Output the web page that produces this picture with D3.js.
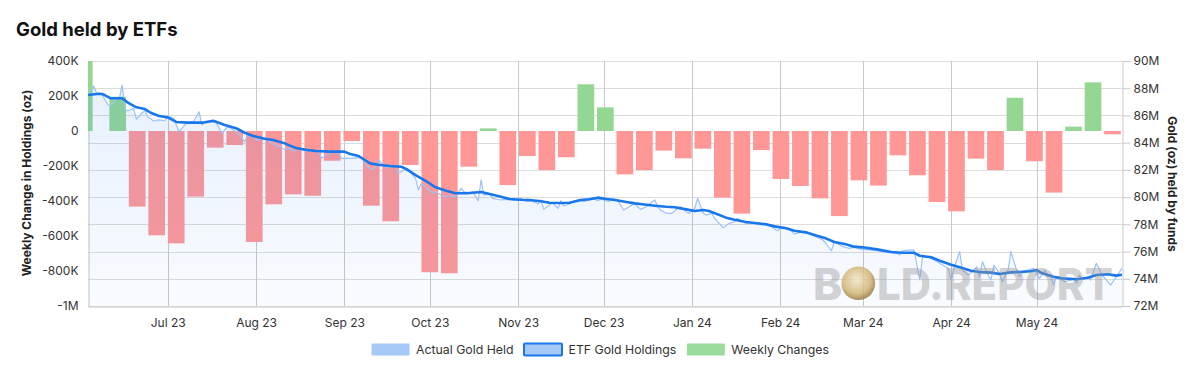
<!DOCTYPE html>
<html><head>
<meta charset="utf-8">
<title>Gold held by ETFs</title>
<script src="https://cdn.jsdelivr.net/npm/d3@7"></script>
<style>
  body { margin: 0; background: #fff; font-family: Inter, "Noto Sans", sans-serif; }
  .tick text { font-family: Inter, "Noto Sans", sans-serif; font-size: 12px; fill: #333; }
  .legend text { font-size: 12.3px; fill: #333; }
</style>
</head>
<body>
<svg id="chart" width="1200" height="381"></svg>

<script>

// Weekly change in holdings (oz), one bar per week
const weekDates = ["2023-05-28",
  "2023-06-09","2023-06-16","2023-06-23","2023-06-30","2023-07-07","2023-07-14","2023-07-21","2023-07-28",
  "2023-08-04","2023-08-11","2023-08-18","2023-08-25","2023-09-01","2023-09-08","2023-09-15","2023-09-22",
  "2023-09-29","2023-10-06","2023-10-13","2023-10-20","2023-10-27","2023-11-03","2023-11-10","2023-11-17",
  "2023-11-24","2023-12-01","2023-12-08","2023-12-15","2023-12-22","2023-12-29","2024-01-05","2024-01-12",
  "2024-01-19","2024-01-26","2024-02-02","2024-02-09","2024-02-16","2024-02-23","2024-03-01","2024-03-08",
  "2024-03-15","2024-03-22","2024-03-29","2024-04-05","2024-04-12","2024-04-19","2024-04-26","2024-05-03",
  "2024-05-10","2024-05-17","2024-05-24","2024-05-31"];
const weeklyChange = [430000,
  196000,-432000,-596000,-642000,-375000,-95000,-80000,-634000,
  -419000,-362000,-370000,-170000,-57000,-427000,-516000,-194000,
  -807000,-813000,-204000,15000,-309000,-143000,-223000,-150000,
  267000,135000,-248000,-223000,-112000,-156000,-101000,-381000,
  -472000,-109000,-274000,-314000,-385000,-486000,-282000,-312000,
  -139000,-253000,-406000,-459000,-158000,-223000,190000,-173000,
  -352000,25000,278000,-19000];

// ETF gold holdings (smoothed), millions of oz
const etfGoldHoldings = [
  ["2023-06-03",87.50],["2023-06-06",87.58],["2023-06-08",87.58],["2023-06-11",87.26],["2023-06-15",87.26],
  ["2023-06-17",86.94],["2023-06-20",86.60],["2023-06-23",86.47],["2023-06-25",86.20],["2023-06-28",85.96],
  ["2023-07-01",85.86],["2023-07-04",85.52],["2023-07-08",85.47],["2023-07-13",85.47],["2023-07-17",85.61],
  ["2023-07-21",85.30],["2023-07-25",85.06],["2023-07-28",84.73],["2023-07-31",84.49],["2023-08-04",84.29],
  ["2023-08-07",84.20],["2023-08-11",83.95],["2023-08-15",83.61],["2023-08-19",83.46],["2023-08-22",83.39],
  ["2023-08-27",83.34],["2023-09-01",83.34],["2023-09-03",83.17],["2023-09-06",83.02],["2023-09-10",82.48],
  ["2023-09-13",82.38],["2023-09-17",82.29],["2023-09-21",82.23],["2023-09-23",82.04],["2023-09-26",81.62],
  ["2023-09-30",81.13],["2023-10-03",80.72],["2023-10-07",80.45],["2023-10-10",80.28],["2023-10-14",80.28],
  ["2023-10-19",80.37],["2023-10-22",80.23],["2023-10-26",80.03],["2023-10-29",79.86],["2023-11-02",79.81],
  ["2023-11-05",79.79],["2023-11-09",79.69],["2023-11-12",79.59],["2023-11-16",79.57],["2023-11-19",79.59],
  ["2023-11-23",79.79],["2023-11-26",79.84],["2023-11-29",79.96],["2023-12-02",79.86],["2023-12-05",79.79],
  ["2023-12-09",79.64],["2023-12-12",79.54],["2023-12-16",79.44],["2023-12-19",79.37],["2023-12-23",79.29],
  ["2023-12-26",79.25],["2023-12-30",79.10],["2024-01-02",78.98],["2024-01-05",79.05],["2024-01-07",78.98],
  ["2024-01-10",78.74],["2024-01-13",78.49],["2024-01-16",78.34],["2024-01-20",78.17],["2024-01-23",78.10],
  ["2024-01-27",78.00],["2024-01-30",77.85],["2024-02-03",77.71],["2024-02-06",77.53],["2024-02-10",77.41],
  ["2024-02-13",77.22],["2024-02-17",76.97],["2024-02-20",76.70],["2024-02-24",76.53],["2024-02-27",76.36],
  ["2024-03-01",76.31],["2024-03-06",76.16],["2024-03-11",75.97],["2024-03-15",75.91],["2024-03-19",75.91],
  ["2024-03-21",75.69],["2024-03-25",75.58],["2024-03-28",75.33],["2024-04-01",75.03],["2024-04-04",74.84],
  ["2024-04-08",74.59],["2024-04-11",74.50],["2024-04-15",74.45],["2024-04-18",74.35],["2024-04-22",74.47],
  ["2024-04-25",74.50],["2024-04-29",74.55],["2024-05-01",74.64],["2024-05-03",74.40],["2024-05-07",74.15],
  ["2024-05-10",74.03],["2024-05-15",73.96],["2024-05-19",74.08],["2024-05-22",74.28],["2024-05-26",74.33],
  ["2024-05-29",74.23],["2024-05-31",74.30]];

// Actual gold held (daily, noisy), millions of oz
const actualGoldHeld = [
  ["2023-06-03",87.50],["2023-06-05",88.16],["2023-06-06",87.63],["2023-06-07",87.67],["2023-06-08",87.50],
  ["2023-06-10",86.77],["2023-06-11",86.69],["2023-06-13",87.19],["2023-06-14",87.26],["2023-06-15",88.24],
  ["2023-06-16",86.40],["2023-06-17",86.35],["2023-06-19",86.52],["2023-06-20",85.72],["2023-06-22",86.20],
  ["2023-06-23",86.35],["2023-06-24",85.91],["2023-06-26",85.59],["2023-06-28",85.67],["2023-06-30",85.61],
  ["2023-07-01",85.96],["2023-07-03",85.79],["2023-07-05",84.81],["2023-07-07",85.30],["2023-07-08",85.52],
  ["2023-07-10",85.54],["2023-07-12",86.27],["2023-07-13",85.30],["2023-07-14",85.52],["2023-07-16",85.54],
  ["2023-07-18",85.47],["2023-07-20",84.69],["2023-07-21",84.93],["2023-07-22",85.17],["2023-07-23",85.06],
  ["2023-07-25",84.81],["2023-07-26",84.56],["2023-07-28",84.07],["2023-07-29",84.56],["2023-07-31",84.44],
  ["2023-08-01",84.20],["2023-08-03",84.27],["2023-08-05",84.20],["2023-08-07",83.90],["2023-08-09",83.75],
  ["2023-08-11",83.51],["2023-08-13",83.59],["2023-08-14",83.39],["2023-08-16",83.59],["2023-08-18",83.41],
  ["2023-08-20",83.39],["2023-08-21",83.46],["2023-08-23",83.34],["2023-08-24",82.85],["2023-08-26",83.09],
  ["2023-08-28",83.34],["2023-08-30",83.22],["2023-08-31",82.85],["2023-09-03",82.85],["2023-09-07",82.92],
  ["2023-09-09",82.23],["2023-09-11",82.04],["2023-09-12",82.19],["2023-09-13",82.78],["2023-09-15",82.23],
  ["2023-09-17",82.19],["2023-09-19",82.36],["2023-09-20",81.75],["2023-09-22",81.99],["2023-09-24",81.87],
  ["2023-09-26",81.38],["2023-09-27",80.52],["2023-09-28",81.01],["2023-09-30",80.65],["2023-10-02",80.28],
  ["2023-10-03",80.40],["2023-10-05",80.15],["2023-10-06",80.03],["2023-10-08",80.08],["2023-10-10",80.03],
  ["2023-10-12",80.65],["2023-10-13",80.40],["2023-10-15",80.28],["2023-10-16",80.40],["2023-10-18",79.74],
  ["2023-10-19",81.26],["2023-10-20",80.15],["2023-10-22",80.28],["2023-10-23",79.91],["2023-10-26",79.79],
  ["2023-10-28",79.84],["2023-10-30",79.79],["2023-11-01",79.74],["2023-11-02",79.91],["2023-11-04",79.66],
  ["2023-11-06",79.74],["2023-11-08",79.49],["2023-11-09",79.79],["2023-11-10",79.10],["2023-11-12",79.42],
  ["2023-11-13",79.59],["2023-11-15",79.18],["2023-11-16",79.74],["2023-11-17",79.35],["2023-11-19",79.49],
  ["2023-11-20",79.66],["2023-11-22",79.79],["2023-11-24",79.66],["2023-11-26",79.79],["2023-11-27",79.91],
  ["2023-11-29",79.74],["2023-11-30",79.84],["2023-12-03",79.66],["2023-12-04",79.91],["2023-12-06",79.74],
  ["2023-12-08",79.05],["2023-12-10",79.29],["2023-12-12",79.54],["2023-12-13",79.29],["2023-12-14",79.10],
  ["2023-12-16",79.29],["2023-12-17",79.49],["2023-12-19",79.79],["2023-12-20",79.29],["2023-12-21",79.05],
  ["2023-12-23",78.81],["2023-12-25",78.81],["2023-12-27",79.18],["2023-12-28",79.29],["2023-12-30",78.93],
  ["2023-12-31",78.81],["2024-01-02",79.18],["2024-01-03",79.91],["2024-01-05",78.81],["2024-01-06",78.68],
  ["2024-01-08",78.81],["2024-01-09",78.44],["2024-01-12",77.75],["2024-01-14",78.07],["2024-01-16",78.19],
  ["2024-01-17",78.44],["2024-01-20",78.07],["2024-01-22",78.12],["2024-01-24",78.07],["2024-01-27",77.95],
  ["2024-01-29",77.82],["2024-01-31",77.53],["2024-02-02",77.82],["2024-02-04",77.71],["2024-02-06",77.29],
  ["2024-02-09",77.46],["2024-02-11",77.34],["2024-02-13",77.14],["2024-02-16",76.85],["2024-02-17",76.61],
  ["2024-02-19",76.06],["2024-02-20",76.72],["2024-02-23",76.36],["2024-02-25",76.24],["2024-02-27",76.31],
  ["2024-02-28",76.24],["2024-03-01",76.16],["2024-03-04",76.11],["2024-03-06",76.06],["2024-03-08",75.99],
  ["2024-03-11",75.91],["2024-03-13",75.87],["2024-03-14",75.75],["2024-03-15",76.06],["2024-03-17",76.11],
  ["2024-03-19",76.11],["2024-03-21",73.91],["2024-03-22",75.62],["2024-03-24",75.58],["2024-03-26",75.38],
  ["2024-03-28",75.14],["2024-03-31",74.77],["2024-04-01",73.91],["2024-04-02",74.77],["2024-04-04",75.99],
  ["2024-04-05",74.64],["2024-04-07",74.28],["2024-04-09",74.64],["2024-04-10",74.89],["2024-04-11",74.15],
  ["2024-04-12",75.25],["2024-04-14",74.28],["2024-04-15",73.91],["2024-04-16",75.01],["2024-04-18",74.40],
  ["2024-04-19",73.78],["2024-04-21",74.64],["2024-04-22",75.99],["2024-04-24",74.64],["2024-04-25",74.15],
  ["2024-04-26",74.52],["2024-04-28",74.64],["2024-04-30",74.77],["2024-05-01",74.40],["2024-05-02",74.03],
  ["2024-05-04",74.64],["2024-05-05",74.15],["2024-05-06",74.28],["2024-05-07",73.54],["2024-05-08",74.15],
  ["2024-05-09",74.03],["2024-05-11",73.78],["2024-05-13",73.91],["2024-05-14",74.03],["2024-05-15",73.67],
  ["2024-05-16",74.28],["2024-05-17",73.91],["2024-05-19",74.15],["2024-05-20",73.91],["2024-05-22",75.14],
  ["2024-05-24",74.28],["2024-05-26",73.78],["2024-05-27",73.54],["2024-05-29",74.15],["2024-05-31",74.77]];

// Ticks
const leftTicks = [400000, 200000, 0, -200000, -400000, -600000, -800000, -1000000];
const leftTickLabels = ["400K", "200K", "0", "-200K", "-400K", "-600K", "-800K", "-1M"];
const rightTicks = [72, 74, 76, 78, 80, 82, 84, 86, 88, 90];
const rightTickLabels = ["72M", "74M", "76M", "78M", "80M", "82M", "84M", "86M", "88M", "90M"];
const monthTicks = ["2023-07-01","2023-08-01","2023-09-01","2023-10-01","2023-11-01","2023-12-01",
                    "2024-01-01","2024-02-01","2024-03-01","2024-04-01","2024-05-01"];
const monthLabels = ["Jul 23","Aug 23","Sep 23","Oct 23","Nov 23","Dec 23",
                     "Jan 24","Feb 24","Mar 24","Apr 24","May 24"];

const legendNames = ["Actual Gold Held", "ETF Gold Holdings", "Weekly Changes"];


const parse = d3.timeParse("%Y-%m-%d");
const svg = d3.select("#chart");
const plot = { left: 88, right: 1122, top: 61, bottom: 306 };

// scales
const x = d3.scaleTime()
  .domain([parse("2023-06-03"), parse("2024-05-31")])
  .range([plot.left, plot.right]);
// columns sit on their own (slightly compressed) time axis
const xBar = d3.scaleTime()
  .domain([parse(weekDates[1]), parse(weekDates[weekDates.length - 1])])
  .range([117.7, 1112.5]);
const yL = d3.scaleLinear().domain([-1000000, 400000]).range([plot.bottom, plot.top]);
const yR = d3.scaleLinear().domain([72, 90]).range([plot.bottom, plot.top]);

const defs = svg.append("defs");
defs.append("clipPath").attr("id", "clip")
  .append("rect")
  .attr("x", plot.left).attr("y", plot.top)
  .attr("width", plot.right - plot.left).attr("height", plot.bottom - plot.top);

const grad = defs.append("linearGradient").attr("id", "areaFill")
  .attr("x1", 0).attr("y1", 0).attr("x2", 0).attr("y2", 1);
grad.append("stop").attr("offset", "0%").attr("stop-color", "rgb(40,125,245)").attr("stop-opacity", 0.11);
grad.append("stop").attr("offset", "100%").attr("stop-color", "rgb(40,125,245)").attr("stop-opacity", 0.03);

const coinGrad = defs.append("radialGradient").attr("id", "coin")
  .attr("cx", "45%").attr("cy", "40%").attr("r", "60%");
coinGrad.append("stop").attr("offset", "0%").attr("stop-color", "#f1e6c2");
coinGrad.append("stop").attr("offset", "70%").attr("stop-color", "#cfb06a");
coinGrad.append("stop").attr("offset", "100%").attr("stop-color", "#8f7136");

// Title
svg.append("text")
  .attr("x", 16).attr("y", 36)
  .style("font", "700 18.5px Inter, sans-serif")
  .style("fill", "#111")
  .text("Gold held by ETFs");

// grid lines
const grid = svg.append("g");
grid.selectAll("line.h").data(rightTicks)
  .join("line").attr("class", "h")
  .attr("x1", plot.left).attr("x2", plot.right)
  .attr("y1", d => Math.round(yR(d)) + 0.5).attr("y2", d => Math.round(yR(d)) + 0.5)
  .attr("stroke", "#dcdcdc");
grid.selectAll("line.v").data(monthTicks)
  .join("line").attr("class", "v")
  .attr("x1", d => Math.round(x(parse(d))) + 0.5).attr("x2", d => Math.round(x(parse(d))) + 0.5)
  .attr("y1", plot.top).attr("y2", plot.bottom)
  .attr("stroke", "#c8c8c8");

// axes
const axL = svg.append("g").attr("transform", `translate(${plot.left + 0.5},0)`)
  .call(d3.axisLeft(yL).tickValues(leftTicks)
    .tickFormat((d, i) => leftTickLabels[i])
    .tickSize(0).tickSizeOuter(0).tickPadding(10));

const axR = svg.append("g").attr("transform", `translate(${plot.right + 0.5},0)`)
  .call(d3.axisRight(yR).tickValues(rightTicks)
    .tickFormat((d, i) => rightTickLabels[i])
    .tickSize(8).tickSizeOuter(0).tickPadding(3));

const axB = svg.append("g").attr("transform", `translate(0,${plot.bottom + 0.5})`)
  .call(d3.axisBottom(x).tickValues(monthTicks.map(parse))
    .tickFormat((d, i) => monthLabels[i])
    .tickSize(0).tickSizeOuter(0).tickPadding(12));

[axL, axR, axB].forEach(a => {
  a.select(".domain").attr("stroke", "#c8c8c8");
  a.selectAll(".tick line").attr("stroke", "#c8c8c8");
});

// axis titles
svg.append("text")
  .attr("transform", "translate(31,183) rotate(-90)")
  .attr("text-anchor", "middle")
  .style("font", "700 12px Inter, sans-serif").style("fill", "#222")
  .text("Weekly Change in Holdings (oz)");
svg.append("text")
  .attr("transform", "translate(1168,184) rotate(90)")
  .attr("text-anchor", "middle")
  .style("font", "700 12px Inter, sans-serif").style("fill", "#222")
  .text("Gold (oz) held by funds");

// plot layer
const layer = svg.append("g").attr("clip-path", "url(#clip)");

// weekly change columns
const step = xBar(parse(weekDates[2])) - xBar(parse(weekDates[1]));
const barW = step * 0.856;
layer.selectAll("rect.bar").data(weekDates)
  .join("rect").attr("class", "bar")
  .attr("x", d => xBar(parse(d)) - barW / 2)
  .attr("width", barW)
  .attr("y", (d, i) => Math.min(yL(0), yL(weeklyChange[i])))
  .attr("height", (d, i) => Math.abs(yL(weeklyChange[i]) - yL(0)))
  .attr("fill", (d, i) => weeklyChange[i] >= 0 ? "#93d793" : "#ff9797");

// area + lines
const actual = actualGoldHeld.map(d => ({ date: parse(d[0]), v: d[1] }));
const etf = etfGoldHoldings.map(d => ({ date: parse(d[0]), v: d[1] }));

layer.append("path")
  .datum(actual)
  .attr("fill", "url(#areaFill)")
  .attr("d", d3.area().x(d => x(d.date)).y0(plot.bottom).y1(d => yR(d.v)));

layer.append("path")
  .datum(actual)
  .attr("fill", "none")
  .attr("stroke", "#9cc2f7")
  .attr("stroke-width", 1.2)
  .attr("stroke-linejoin", "round")
  .attr("d", d3.line().x(d => x(d.date)).y(d => yR(d.v)));

layer.append("path")
  .datum(etf)
  .attr("fill", "none")
  .attr("stroke", "#1877ec")
  .attr("stroke-width", 2.6)
  .attr("stroke-linejoin", "round")
  .attr("d", d3.line().x(d => x(d.date)).y(d => yR(d.v)));

// watermark (sits over the plot, very light)
const wm = svg.append("g");
const wmFont = "800 44px Inter, sans-serif";
const wmFill = "rgba(150,150,150,0.42)";
wm.append("text")
  .attr("x", 813).attr("y", 300)
  .style("font", wmFont).style("fill", wmFill)
  .text("B");
wm.append("circle")
  .attr("cx", 858.3).attr("cy", 283.3).attr("r", 16.8)
  .attr("fill", "url(#coin)").attr("opacity", 0.8);
const wmRest = wm.append("text")
  .attr("x", 0).attr("y", 0)
  .style("font", wmFont).style("fill", wmFill)
  .text("LD.REPORT");
// squeeze the rest of the mark into the width it has in the original
const restLen = wmRest.node().getComputedTextLength();
wmRest.attr("transform", `translate(877,300) scale(${236 / restLen},1)`);

// legend
const legend = svg.append("g").attr("class", "legend");
const items = legend.selectAll("g").data(legendNames).join("g");
items.append("text").attr("x", 45).attr("y", 354.3).text(d => d);
items.append("rect")
  .attr("x", 0.5).attr("y", 343.5).attr("width", 38).attr("height", 12).attr("rx", 1)
  .attr("fill", (d, i) => i === 2 ? "#9bdb9b" : "#a6c9f8")
  .attr("stroke", (d, i) => i === 1 ? "#1877ec" : "none")
  .attr("stroke-width", 2);

let widths = [];
items.each(function() { widths.push(45 + d3.select(this).select("text").node().getComputedTextLength()); });
const gap = 10;
const total = d3.sum(widths) + gap * (widths.length - 1);
let cx = 600 - total / 2;
items.attr("transform", (d, i) => {
  const t = `translate(${cx},0)`;
  cx += widths[i] + gap;
  return t;
});

</script>
</body>
</html>
